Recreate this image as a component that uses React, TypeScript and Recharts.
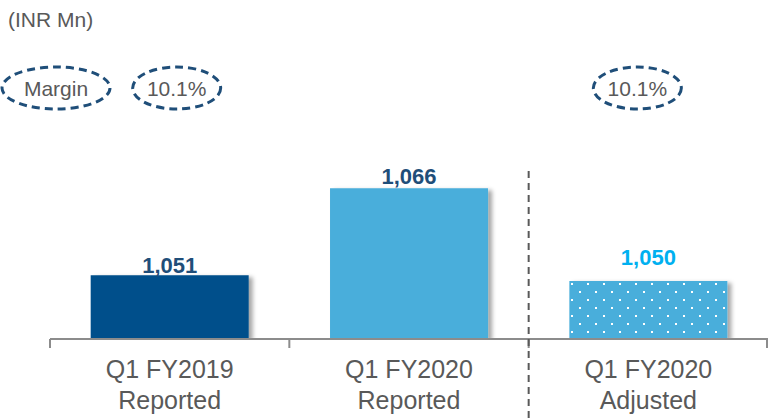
import React from "react";
import { BarChart, Bar, XAxis, YAxis, Cell, LabelList } from "recharts";

// values
const quarters = ["Q1 FY2019", "Q1 FY2020", "Q1 FY2020"];
const bases = ["Reported", "Reported", "Adjusted"];
const ebitda = [1051, 1066, 1050];
const margins = ["10.1%", "", "10.1%"];

const data = quarters.map((q, i) => ({
  name: `${q} ${bases[i]}`,
  quarter: q,
  basis: bases[i],
  value: ebitda[i],
  margin: margins[i],
}));

const BAR_FILLS = ["#00508B", "#4AAEDB", "url(#dots)"];
const LABEL_COLORS = ["#1F4E79", "#1F4E79", "#00B0F0"];
const LABEL_GAP = [2, 4, 16];
const BUBBLE_SHIFT = [7, 0, -11];
const GRAY = "#595959";
const AXIS = "#8C8C8C";
const NAVY = "#1F4E79";

const Tick = ({ x, y, payload, index }: any) => {
  const off = payload?.offset ?? 120;
  const d = data[index];
  const last = index === data.length - 1;
  return (
    <g>
      <line x1={x - off} x2={x - off} y1={y} y2={y + 9} stroke={AXIS} strokeWidth={2} />
      {last && <line x1={x + off - 1} x2={x + off - 1} y1={y} y2={y + 9} stroke={AXIS} strokeWidth={2} />}
      {d.basis === "Adjusted" && (
        <line x1={x - off} x2={x - off} y1={y - 168} y2={y + 80} stroke={GRAY} strokeWidth={2} strokeDasharray="7 5" />
      )}
      <text x={x} y={y + 39} textAnchor="middle" fill={GRAY} fontSize={25}>{d.quarter}</text>
      <text x={x} y={y + 70} textAnchor="middle" fill={GRAY} fontSize={25}>{d.basis}</text>
    </g>
  );
};

const ValueLabel = ({ x, y, width, value, index }: any) => (
  <text
    x={x + width / 2}
    y={y - LABEL_GAP[index]}
    textAnchor="middle"
    fill={LABEL_COLORS[index]}
    fontSize={22}
    fontWeight="bold"
  >
    {Number(value).toLocaleString("en-US")}
  </text>
);

const MarginBubble = ({ x, width, value, index }: any) => {
  if (!value) return null;
  const cx = x + width / 2 + BUBBLE_SHIFT[index];
  return (
    <g>
      <ellipse cx={cx} cy={88} rx={44} ry={21} fill="none" stroke={NAVY} strokeWidth={3} strokeDasharray="8 5" />
      <text x={cx} y={96} textAnchor="middle" fill={GRAY} fontSize={21}>{value}</text>
    </g>
  );
};

export default function App() {
  return (
    <div style={{ position: "absolute", left: 0, top: 0, width: 769, height: 419, background: "#fff", fontFamily: "'Liberation Sans', Arial, sans-serif" }}>
      <svg width={130} height={120} style={{ position: "absolute", left: 0, top: 0 }}>
        <text x={8} y={27} fill={GRAY} fontSize={21}>(INR Mn)</text>
        <ellipse cx={56} cy={88} rx={54} ry={21} fill="none" stroke={NAVY} strokeWidth={3} strokeDasharray="8 5" />
        <text x={56} y={96} textAnchor="middle" fill={GRAY} fontSize={21}>Margin</text>
      </svg>
      <BarChart
        width={769}
        height={419}
        data={data}
        margin={{ top: 107, right: 1, left: 50, bottom: 79 }}
        barCategoryGap="17%"
        style={{ position: "absolute", left: 0, top: 0 }}
      >
        <defs>
          <pattern id="dots" width={16} height={16} patternUnits="userSpaceOnUse">
            <rect width={16} height={16} fill="#4AAEDB" />
            <rect x={3} y={3} width={2} height={2} fill="#fff" />
            <rect x={11} y={11} width={2} height={2} fill="#fff" />
          </pattern>
          <filter id="shadow" x="-10%" y="-10%" width="130%" height="130%">
            <feDropShadow dx={4} dy={2} stdDeviation={2} floodColor="#000" floodOpacity={0.35} />
          </filter>
        </defs>
        <XAxis
          dataKey="name"
          height={1}
          axisLine={{ stroke: AXIS, strokeWidth: 2 }}
          tickLine={false}
          tickSize={0}
          tickMargin={0}
          interval={0}
          tick={<Tick />}
        />
        <YAxis hide domain={[1040, 1080]} allowDataOverflow />
        <Bar dataKey="value" isAnimationActive={false}>
          {data.map((d, i) => (
            <Cell key={d.name} fill={BAR_FILLS[i]} filter="url(#shadow)" />
          ))}
          <LabelList dataKey="value" content={<ValueLabel />} />
          <LabelList dataKey="margin" content={<MarginBubble />} />
        </Bar>
      </BarChart>
    </div>
  );
}
